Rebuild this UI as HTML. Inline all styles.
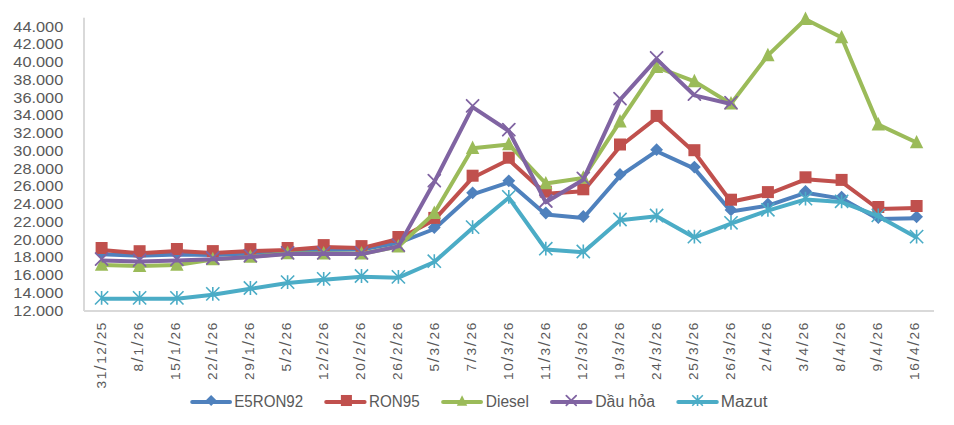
<!DOCTYPE html>
<html><head><meta charset="utf-8"><style>
html,body{margin:0;padding:0;background:#fff;}
body{width:954px;height:425px;overflow:hidden;}
svg{display:block;}
text{font-family:"Liberation Sans",sans-serif;fill:#595959;}
</style></head><body>
<svg width="954" height="425" viewBox="0 0 954 425">
<rect width="954" height="425" fill="#fff"/>
<rect x="83" y="17.7" width="2" height="293.3" fill="#D9D9D9"/>
<rect x="84" y="310" width="850" height="2" fill="#D9D9D9"/>
<text x="63.3" y="31.70" text-anchor="end" font-size="15.5" textLength="50.0" lengthAdjust="spacingAndGlyphs">44.000</text>
<text x="63.3" y="49.45" text-anchor="end" font-size="15.5" textLength="50.0" lengthAdjust="spacingAndGlyphs">42.000</text>
<text x="63.3" y="67.20" text-anchor="end" font-size="15.5" textLength="50.0" lengthAdjust="spacingAndGlyphs">40.000</text>
<text x="63.3" y="84.95" text-anchor="end" font-size="15.5" textLength="50.0" lengthAdjust="spacingAndGlyphs">38.000</text>
<text x="63.3" y="102.70" text-anchor="end" font-size="15.5" textLength="50.0" lengthAdjust="spacingAndGlyphs">36.000</text>
<text x="63.3" y="120.45" text-anchor="end" font-size="15.5" textLength="50.0" lengthAdjust="spacingAndGlyphs">34.000</text>
<text x="63.3" y="138.20" text-anchor="end" font-size="15.5" textLength="50.0" lengthAdjust="spacingAndGlyphs">32.000</text>
<text x="63.3" y="155.95" text-anchor="end" font-size="15.5" textLength="50.0" lengthAdjust="spacingAndGlyphs">30.000</text>
<text x="63.3" y="173.70" text-anchor="end" font-size="15.5" textLength="50.0" lengthAdjust="spacingAndGlyphs">28.000</text>
<text x="63.3" y="191.45" text-anchor="end" font-size="15.5" textLength="50.0" lengthAdjust="spacingAndGlyphs">26.000</text>
<text x="63.3" y="209.20" text-anchor="end" font-size="15.5" textLength="50.0" lengthAdjust="spacingAndGlyphs">24.000</text>
<text x="63.3" y="226.95" text-anchor="end" font-size="15.5" textLength="50.0" lengthAdjust="spacingAndGlyphs">22.000</text>
<text x="63.3" y="244.70" text-anchor="end" font-size="15.5" textLength="50.0" lengthAdjust="spacingAndGlyphs">20.000</text>
<text x="63.3" y="262.45" text-anchor="end" font-size="15.5" textLength="50.0" lengthAdjust="spacingAndGlyphs">18.000</text>
<text x="63.3" y="280.20" text-anchor="end" font-size="15.5" textLength="50.0" lengthAdjust="spacingAndGlyphs">16.000</text>
<text x="63.3" y="297.95" text-anchor="end" font-size="15.5" textLength="50.0" lengthAdjust="spacingAndGlyphs">14.000</text>
<text x="63.3" y="315.70" text-anchor="end" font-size="15.5" textLength="50.0" lengthAdjust="spacingAndGlyphs">12.000</text>
<text transform="translate(106.20,322.60) rotate(-90)" text-anchor="end" font-size="13.6" textLength="65.8" lengthAdjust="spacing">31<tspan font-size="17">/</tspan>12<tspan font-size="17">/</tspan>25</text>
<text transform="translate(143.16,322.60) rotate(-90)" text-anchor="end" font-size="13.6" textLength="49.0" lengthAdjust="spacing">8<tspan font-size="17">/</tspan>1<tspan font-size="17">/</tspan>26</text>
<text transform="translate(180.12,322.60) rotate(-90)" text-anchor="end" font-size="13.6" textLength="57.4" lengthAdjust="spacing">15<tspan font-size="17">/</tspan>1<tspan font-size="17">/</tspan>26</text>
<text transform="translate(217.08,322.60) rotate(-90)" text-anchor="end" font-size="13.6" textLength="57.4" lengthAdjust="spacing">22<tspan font-size="17">/</tspan>1<tspan font-size="17">/</tspan>26</text>
<text transform="translate(254.04,322.60) rotate(-90)" text-anchor="end" font-size="13.6" textLength="57.4" lengthAdjust="spacing">29<tspan font-size="17">/</tspan>1<tspan font-size="17">/</tspan>26</text>
<text transform="translate(291.00,322.60) rotate(-90)" text-anchor="end" font-size="13.6" textLength="49.0" lengthAdjust="spacing">5<tspan font-size="17">/</tspan>2<tspan font-size="17">/</tspan>26</text>
<text transform="translate(327.96,322.60) rotate(-90)" text-anchor="end" font-size="13.6" textLength="57.4" lengthAdjust="spacing">12<tspan font-size="17">/</tspan>2<tspan font-size="17">/</tspan>26</text>
<text transform="translate(364.92,322.60) rotate(-90)" text-anchor="end" font-size="13.6" textLength="57.4" lengthAdjust="spacing">20<tspan font-size="17">/</tspan>2<tspan font-size="17">/</tspan>26</text>
<text transform="translate(401.88,322.60) rotate(-90)" text-anchor="end" font-size="13.6" textLength="57.4" lengthAdjust="spacing">26<tspan font-size="17">/</tspan>2<tspan font-size="17">/</tspan>26</text>
<text transform="translate(438.84,322.60) rotate(-90)" text-anchor="end" font-size="13.6" textLength="49.0" lengthAdjust="spacing">5<tspan font-size="17">/</tspan>3<tspan font-size="17">/</tspan>26</text>
<text transform="translate(475.80,322.60) rotate(-90)" text-anchor="end" font-size="13.6" textLength="49.0" lengthAdjust="spacing">7<tspan font-size="17">/</tspan>3<tspan font-size="17">/</tspan>26</text>
<text transform="translate(512.76,322.60) rotate(-90)" text-anchor="end" font-size="13.6" textLength="57.4" lengthAdjust="spacing">10<tspan font-size="17">/</tspan>3<tspan font-size="17">/</tspan>26</text>
<text transform="translate(549.72,322.60) rotate(-90)" text-anchor="end" font-size="13.6" textLength="57.4" lengthAdjust="spacing">11<tspan font-size="17">/</tspan>3<tspan font-size="17">/</tspan>26</text>
<text transform="translate(586.68,322.60) rotate(-90)" text-anchor="end" font-size="13.6" textLength="57.4" lengthAdjust="spacing">12<tspan font-size="17">/</tspan>3<tspan font-size="17">/</tspan>26</text>
<text transform="translate(623.64,322.60) rotate(-90)" text-anchor="end" font-size="13.6" textLength="57.4" lengthAdjust="spacing">19<tspan font-size="17">/</tspan>3<tspan font-size="17">/</tspan>26</text>
<text transform="translate(660.60,322.60) rotate(-90)" text-anchor="end" font-size="13.6" textLength="57.4" lengthAdjust="spacing">24<tspan font-size="17">/</tspan>3<tspan font-size="17">/</tspan>26</text>
<text transform="translate(697.56,322.60) rotate(-90)" text-anchor="end" font-size="13.6" textLength="57.4" lengthAdjust="spacing">25<tspan font-size="17">/</tspan>3<tspan font-size="17">/</tspan>26</text>
<text transform="translate(734.52,322.60) rotate(-90)" text-anchor="end" font-size="13.6" textLength="57.4" lengthAdjust="spacing">26<tspan font-size="17">/</tspan>3<tspan font-size="17">/</tspan>26</text>
<text transform="translate(771.48,322.60) rotate(-90)" text-anchor="end" font-size="13.6" textLength="49.0" lengthAdjust="spacing">2<tspan font-size="17">/</tspan>4<tspan font-size="17">/</tspan>26</text>
<text transform="translate(808.44,322.60) rotate(-90)" text-anchor="end" font-size="13.6" textLength="49.0" lengthAdjust="spacing">3<tspan font-size="17">/</tspan>4<tspan font-size="17">/</tspan>26</text>
<text transform="translate(845.40,322.60) rotate(-90)" text-anchor="end" font-size="13.6" textLength="49.0" lengthAdjust="spacing">8<tspan font-size="17">/</tspan>4<tspan font-size="17">/</tspan>26</text>
<text transform="translate(882.36,322.60) rotate(-90)" text-anchor="end" font-size="13.6" textLength="49.0" lengthAdjust="spacing">9<tspan font-size="17">/</tspan>4<tspan font-size="17">/</tspan>26</text>
<text transform="translate(919.32,322.60) rotate(-90)" text-anchor="end" font-size="13.6" textLength="57.4" lengthAdjust="spacing">16<tspan font-size="17">/</tspan>4<tspan font-size="17">/</tspan>26</text>
<polyline points="101.60,254.30 139.60,255.80 176.90,254.60 212.80,255.00 250.40,253.80 287.60,252.50 323.70,250.00 361.50,249.50 398.40,242.80 434.30,229.00 472.60,194.30 508.80,182.30 545.80,214.50 583.30,218.00 620.00,175.90 656.60,151.20 694.40,168.60 731.00,211.40 767.90,205.60 805.50,192.80 841.60,198.60 878.30,219.00 916.60,218.30" fill="none" stroke="#4F81BD" stroke-width="4" stroke-linejoin="round" stroke-linecap="butt"/>
<path d="M101.60,246.40L108.00,252.80L101.60,259.20L95.20,252.80Z" fill="#4F81BD"/>
<path d="M139.60,247.90L146.00,254.30L139.60,260.70L133.20,254.30Z" fill="#4F81BD"/>
<path d="M176.90,246.70L183.30,253.10L176.90,259.50L170.50,253.10Z" fill="#4F81BD"/>
<path d="M212.80,247.10L219.20,253.50L212.80,259.90L206.40,253.50Z" fill="#4F81BD"/>
<path d="M250.40,245.90L256.80,252.30L250.40,258.70L244.00,252.30Z" fill="#4F81BD"/>
<path d="M287.60,244.60L294.00,251.00L287.60,257.40L281.20,251.00Z" fill="#4F81BD"/>
<path d="M323.70,242.10L330.10,248.50L323.70,254.90L317.30,248.50Z" fill="#4F81BD"/>
<path d="M361.50,241.60L367.90,248.00L361.50,254.40L355.10,248.00Z" fill="#4F81BD"/>
<path d="M398.40,234.90L404.80,241.30L398.40,247.70L392.00,241.30Z" fill="#4F81BD"/>
<path d="M434.30,221.10L440.70,227.50L434.30,233.90L427.90,227.50Z" fill="#4F81BD"/>
<path d="M472.60,186.40L479.00,192.80L472.60,199.20L466.20,192.80Z" fill="#4F81BD"/>
<path d="M508.80,174.40L515.20,180.80L508.80,187.20L502.40,180.80Z" fill="#4F81BD"/>
<path d="M545.80,206.60L552.20,213.00L545.80,219.40L539.40,213.00Z" fill="#4F81BD"/>
<path d="M583.30,210.10L589.70,216.50L583.30,222.90L576.90,216.50Z" fill="#4F81BD"/>
<path d="M620.00,168.00L626.40,174.40L620.00,180.80L613.60,174.40Z" fill="#4F81BD"/>
<path d="M656.60,143.30L663.00,149.70L656.60,156.10L650.20,149.70Z" fill="#4F81BD"/>
<path d="M694.40,160.70L700.80,167.10L694.40,173.50L688.00,167.10Z" fill="#4F81BD"/>
<path d="M731.00,203.50L737.40,209.90L731.00,216.30L724.60,209.90Z" fill="#4F81BD"/>
<path d="M767.90,197.70L774.30,204.10L767.90,210.50L761.50,204.10Z" fill="#4F81BD"/>
<path d="M805.50,184.90L811.90,191.30L805.50,197.70L799.10,191.30Z" fill="#4F81BD"/>
<path d="M841.60,190.70L848.00,197.10L841.60,203.50L835.20,197.10Z" fill="#4F81BD"/>
<path d="M878.30,211.10L884.70,217.50L878.30,223.90L871.90,217.50Z" fill="#4F81BD"/>
<path d="M916.60,210.40L923.00,216.80L916.60,223.20L910.20,216.80Z" fill="#4F81BD"/>
<polyline points="101.60,250.00 139.60,253.20 176.90,251.00 212.80,253.10 250.40,251.10 287.60,250.00 323.70,247.10 361.50,248.10 398.40,239.00 434.30,219.90 472.60,177.70 508.80,159.70 545.80,193.70 583.30,191.30 620.00,146.50 656.60,117.90 694.40,152.20 731.00,201.70 767.90,194.10 805.50,179.30 841.60,181.90 878.30,209.00 916.60,208.00" fill="none" stroke="#C0504D" stroke-width="4" stroke-linejoin="round" stroke-linecap="butt"/>
<rect x="95.60" y="242.00" width="12.00" height="12.00" fill="#C0504D"/>
<rect x="133.60" y="245.20" width="12.00" height="12.00" fill="#C0504D"/>
<rect x="170.90" y="243.00" width="12.00" height="12.00" fill="#C0504D"/>
<rect x="206.80" y="245.10" width="12.00" height="12.00" fill="#C0504D"/>
<rect x="244.40" y="243.10" width="12.00" height="12.00" fill="#C0504D"/>
<rect x="281.60" y="242.00" width="12.00" height="12.00" fill="#C0504D"/>
<rect x="317.70" y="239.10" width="12.00" height="12.00" fill="#C0504D"/>
<rect x="355.50" y="240.10" width="12.00" height="12.00" fill="#C0504D"/>
<rect x="392.40" y="231.00" width="12.00" height="12.00" fill="#C0504D"/>
<rect x="428.30" y="211.90" width="12.00" height="12.00" fill="#C0504D"/>
<rect x="466.60" y="169.70" width="12.00" height="12.00" fill="#C0504D"/>
<rect x="502.80" y="151.70" width="12.00" height="12.00" fill="#C0504D"/>
<rect x="539.80" y="185.70" width="12.00" height="12.00" fill="#C0504D"/>
<rect x="577.30" y="183.30" width="12.00" height="12.00" fill="#C0504D"/>
<rect x="614.00" y="138.50" width="12.00" height="12.00" fill="#C0504D"/>
<rect x="650.60" y="109.90" width="12.00" height="12.00" fill="#C0504D"/>
<rect x="688.40" y="144.20" width="12.00" height="12.00" fill="#C0504D"/>
<rect x="725.00" y="193.70" width="12.00" height="12.00" fill="#C0504D"/>
<rect x="761.90" y="186.10" width="12.00" height="12.00" fill="#C0504D"/>
<rect x="799.50" y="171.30" width="12.00" height="12.00" fill="#C0504D"/>
<rect x="835.60" y="173.90" width="12.00" height="12.00" fill="#C0504D"/>
<rect x="872.30" y="201.00" width="12.00" height="12.00" fill="#C0504D"/>
<rect x="910.60" y="200.00" width="12.00" height="12.00" fill="#C0504D"/>
<polyline points="101.60,265.00 139.60,266.10 176.90,265.00 212.80,259.40 250.40,256.90 287.60,253.40 323.70,253.60 361.50,253.70 398.40,246.60 434.30,213.20 472.60,148.20 508.80,144.40 545.80,183.50 583.30,177.90 620.00,121.70 656.60,67.20 694.40,81.40 731.00,103.70 767.90,55.40 805.50,19.20 841.60,37.55 878.30,124.60 916.60,142.50" fill="none" stroke="#9BBB59" stroke-width="4" stroke-linejoin="round" stroke-linecap="butt"/>
<path d="M101.60,257.40L108.30,270.80L94.90,270.80Z" fill="#9BBB59"/>
<path d="M139.60,258.50L146.30,271.90L132.90,271.90Z" fill="#9BBB59"/>
<path d="M176.90,257.40L183.60,270.80L170.20,270.80Z" fill="#9BBB59"/>
<path d="M212.80,251.80L219.50,265.20L206.10,265.20Z" fill="#9BBB59"/>
<path d="M250.40,249.30L257.10,262.70L243.70,262.70Z" fill="#9BBB59"/>
<path d="M287.60,245.80L294.30,259.20L280.90,259.20Z" fill="#9BBB59"/>
<path d="M323.70,246.00L330.40,259.40L317.00,259.40Z" fill="#9BBB59"/>
<path d="M361.50,246.10L368.20,259.50L354.80,259.50Z" fill="#9BBB59"/>
<path d="M398.40,239.00L405.10,252.40L391.70,252.40Z" fill="#9BBB59"/>
<path d="M434.30,205.60L441.00,219.00L427.60,219.00Z" fill="#9BBB59"/>
<path d="M472.60,140.60L479.30,154.00L465.90,154.00Z" fill="#9BBB59"/>
<path d="M508.80,136.80L515.50,150.20L502.10,150.20Z" fill="#9BBB59"/>
<path d="M545.80,175.90L552.50,189.30L539.10,189.30Z" fill="#9BBB59"/>
<path d="M583.30,170.30L590.00,183.70L576.60,183.70Z" fill="#9BBB59"/>
<path d="M620.00,114.10L626.70,127.50L613.30,127.50Z" fill="#9BBB59"/>
<path d="M656.60,59.60L663.30,73.00L649.90,73.00Z" fill="#9BBB59"/>
<path d="M694.40,73.80L701.10,87.20L687.70,87.20Z" fill="#9BBB59"/>
<path d="M731.00,96.10L737.70,109.50L724.30,109.50Z" fill="#9BBB59"/>
<path d="M767.90,47.80L774.60,61.20L761.20,61.20Z" fill="#9BBB59"/>
<path d="M805.50,11.60L812.20,25.00L798.80,25.00Z" fill="#9BBB59"/>
<path d="M841.60,29.95L848.30,43.35L834.90,43.35Z" fill="#9BBB59"/>
<path d="M878.30,117.00L885.00,130.40L871.60,130.40Z" fill="#9BBB59"/>
<path d="M916.60,134.90L923.30,148.30L909.90,148.30Z" fill="#9BBB59"/>
<polyline points="101.60,260.40 139.60,261.50 176.90,260.60 212.80,259.30 250.40,257.00 287.60,254.10 323.70,254.10 361.50,254.10 398.40,246.40 434.30,182.00 472.60,107.10 508.80,131.00 545.80,202.30 583.30,179.70 620.00,99.90 656.60,59.10 694.40,95.40 731.00,104.00" fill="none" stroke="#8064A2" stroke-width="4" stroke-linejoin="round" stroke-linecap="butt"/>
<path d="M95.60,253.10L107.60,265.10M107.60,253.10L95.60,265.10" stroke="#8064A2" stroke-width="1.8" stroke-linecap="round" fill="none"/>
<path d="M133.60,254.20L145.60,266.20M145.60,254.20L133.60,266.20" stroke="#8064A2" stroke-width="1.8" stroke-linecap="round" fill="none"/>
<path d="M170.90,253.30L182.90,265.30M182.90,253.30L170.90,265.30" stroke="#8064A2" stroke-width="1.8" stroke-linecap="round" fill="none"/>
<path d="M206.80,252.00L218.80,264.00M218.80,252.00L206.80,264.00" stroke="#8064A2" stroke-width="1.8" stroke-linecap="round" fill="none"/>
<path d="M244.40,249.70L256.40,261.70M256.40,249.70L244.40,261.70" stroke="#8064A2" stroke-width="1.8" stroke-linecap="round" fill="none"/>
<path d="M281.60,246.80L293.60,258.80M293.60,246.80L281.60,258.80" stroke="#8064A2" stroke-width="1.8" stroke-linecap="round" fill="none"/>
<path d="M317.70,246.80L329.70,258.80M329.70,246.80L317.70,258.80" stroke="#8064A2" stroke-width="1.8" stroke-linecap="round" fill="none"/>
<path d="M355.50,246.80L367.50,258.80M367.50,246.80L355.50,258.80" stroke="#8064A2" stroke-width="1.8" stroke-linecap="round" fill="none"/>
<path d="M392.40,239.10L404.40,251.10M404.40,239.10L392.40,251.10" stroke="#8064A2" stroke-width="1.8" stroke-linecap="round" fill="none"/>
<path d="M428.30,174.70L440.30,186.70M440.30,174.70L428.30,186.70" stroke="#8064A2" stroke-width="1.8" stroke-linecap="round" fill="none"/>
<path d="M466.60,99.80L478.60,111.80M478.60,99.80L466.60,111.80" stroke="#8064A2" stroke-width="1.8" stroke-linecap="round" fill="none"/>
<path d="M502.80,123.70L514.80,135.70M514.80,123.70L502.80,135.70" stroke="#8064A2" stroke-width="1.8" stroke-linecap="round" fill="none"/>
<path d="M539.80,195.00L551.80,207.00M551.80,195.00L539.80,207.00" stroke="#8064A2" stroke-width="1.8" stroke-linecap="round" fill="none"/>
<path d="M577.30,172.40L589.30,184.40M589.30,172.40L577.30,184.40" stroke="#8064A2" stroke-width="1.8" stroke-linecap="round" fill="none"/>
<path d="M614.00,92.60L626.00,104.60M626.00,92.60L614.00,104.60" stroke="#8064A2" stroke-width="1.8" stroke-linecap="round" fill="none"/>
<path d="M650.60,51.80L662.60,63.80M662.60,51.80L650.60,63.80" stroke="#8064A2" stroke-width="1.8" stroke-linecap="round" fill="none"/>
<path d="M688.40,88.10L700.40,100.10M700.40,88.10L688.40,100.10" stroke="#8064A2" stroke-width="1.8" stroke-linecap="round" fill="none"/>
<path d="M725.00,96.70L737.00,108.70M737.00,96.70L725.00,108.70" stroke="#8064A2" stroke-width="1.8" stroke-linecap="round" fill="none"/>
<polyline points="101.60,298.70 139.60,298.70 176.90,298.70 212.80,294.70 250.40,288.80 287.60,282.90 323.70,279.70 361.50,276.80 398.40,277.70 434.30,262.00 472.60,227.90 508.80,197.70 545.80,249.50 583.30,252.30 620.00,220.30 656.60,216.30 694.40,237.50 731.00,223.60 767.90,210.60 805.50,199.40 841.60,202.10 878.30,216.20 916.60,237.40" fill="none" stroke="#4BACC6" stroke-width="4" stroke-linejoin="round" stroke-linecap="butt"/>
<path d="M95.00,291.30L108.20,304.50M108.20,291.30L95.00,304.50M101.60,291.00L101.60,304.80" stroke="#4BACC6" stroke-width="1.6" stroke-linecap="butt" fill="none"/>
<path d="M133.00,291.30L146.20,304.50M146.20,291.30L133.00,304.50M139.60,291.00L139.60,304.80" stroke="#4BACC6" stroke-width="1.6" stroke-linecap="butt" fill="none"/>
<path d="M170.30,291.30L183.50,304.50M183.50,291.30L170.30,304.50M176.90,291.00L176.90,304.80" stroke="#4BACC6" stroke-width="1.6" stroke-linecap="butt" fill="none"/>
<path d="M206.20,287.30L219.40,300.50M219.40,287.30L206.20,300.50M212.80,287.00L212.80,300.80" stroke="#4BACC6" stroke-width="1.6" stroke-linecap="butt" fill="none"/>
<path d="M243.80,281.40L257.00,294.60M257.00,281.40L243.80,294.60M250.40,281.10L250.40,294.90" stroke="#4BACC6" stroke-width="1.6" stroke-linecap="butt" fill="none"/>
<path d="M281.00,275.50L294.20,288.70M294.20,275.50L281.00,288.70M287.60,275.20L287.60,289.00" stroke="#4BACC6" stroke-width="1.6" stroke-linecap="butt" fill="none"/>
<path d="M317.10,272.30L330.30,285.50M330.30,272.30L317.10,285.50M323.70,272.00L323.70,285.80" stroke="#4BACC6" stroke-width="1.6" stroke-linecap="butt" fill="none"/>
<path d="M354.90,269.40L368.10,282.60M368.10,269.40L354.90,282.60M361.50,269.10L361.50,282.90" stroke="#4BACC6" stroke-width="1.6" stroke-linecap="butt" fill="none"/>
<path d="M391.80,270.30L405.00,283.50M405.00,270.30L391.80,283.50M398.40,270.00L398.40,283.80" stroke="#4BACC6" stroke-width="1.6" stroke-linecap="butt" fill="none"/>
<path d="M427.70,254.60L440.90,267.80M440.90,254.60L427.70,267.80M434.30,254.30L434.30,268.10" stroke="#4BACC6" stroke-width="1.6" stroke-linecap="butt" fill="none"/>
<path d="M466.00,220.50L479.20,233.70M479.20,220.50L466.00,233.70M472.60,220.20L472.60,234.00" stroke="#4BACC6" stroke-width="1.6" stroke-linecap="butt" fill="none"/>
<path d="M502.20,190.30L515.40,203.50M515.40,190.30L502.20,203.50M508.80,190.00L508.80,203.80" stroke="#4BACC6" stroke-width="1.6" stroke-linecap="butt" fill="none"/>
<path d="M539.20,242.10L552.40,255.30M552.40,242.10L539.20,255.30M545.80,241.80L545.80,255.60" stroke="#4BACC6" stroke-width="1.6" stroke-linecap="butt" fill="none"/>
<path d="M576.70,244.90L589.90,258.10M589.90,244.90L576.70,258.10M583.30,244.60L583.30,258.40" stroke="#4BACC6" stroke-width="1.6" stroke-linecap="butt" fill="none"/>
<path d="M613.40,212.90L626.60,226.10M626.60,212.90L613.40,226.10M620.00,212.60L620.00,226.40" stroke="#4BACC6" stroke-width="1.6" stroke-linecap="butt" fill="none"/>
<path d="M650.00,208.90L663.20,222.10M663.20,208.90L650.00,222.10M656.60,208.60L656.60,222.40" stroke="#4BACC6" stroke-width="1.6" stroke-linecap="butt" fill="none"/>
<path d="M687.80,230.10L701.00,243.30M701.00,230.10L687.80,243.30M694.40,229.80L694.40,243.60" stroke="#4BACC6" stroke-width="1.6" stroke-linecap="butt" fill="none"/>
<path d="M724.40,216.20L737.60,229.40M737.60,216.20L724.40,229.40M731.00,215.90L731.00,229.70" stroke="#4BACC6" stroke-width="1.6" stroke-linecap="butt" fill="none"/>
<path d="M761.30,203.20L774.50,216.40M774.50,203.20L761.30,216.40M767.90,202.90L767.90,216.70" stroke="#4BACC6" stroke-width="1.6" stroke-linecap="butt" fill="none"/>
<path d="M798.90,192.00L812.10,205.20M812.10,192.00L798.90,205.20M805.50,191.70L805.50,205.50" stroke="#4BACC6" stroke-width="1.6" stroke-linecap="butt" fill="none"/>
<path d="M835.00,194.70L848.20,207.90M848.20,194.70L835.00,207.90M841.60,194.40L841.60,208.20" stroke="#4BACC6" stroke-width="1.6" stroke-linecap="butt" fill="none"/>
<path d="M871.70,208.80L884.90,222.00M884.90,208.80L871.70,222.00M878.30,208.50L878.30,222.30" stroke="#4BACC6" stroke-width="1.6" stroke-linecap="butt" fill="none"/>
<path d="M910.00,230.00L923.20,243.20M923.20,230.00L910.00,243.20M916.60,229.70L916.60,243.50" stroke="#4BACC6" stroke-width="1.6" stroke-linecap="butt" fill="none"/>
<line x1="192.20" y1="402.0" x2="230.00" y2="402.0" stroke="#4F81BD" stroke-width="4" stroke-linecap="round"/>
<path d="M211.10,395.00L216.60,400.50L211.10,406.00L205.60,400.50Z" fill="#4F81BD"/>
<text x="234.30" y="406.6" font-size="15.6" textLength="68.8" lengthAdjust="spacingAndGlyphs">E5RON92</text>
<line x1="326.20" y1="402.0" x2="364.60" y2="402.0" stroke="#C0504D" stroke-width="4" stroke-linecap="round"/>
<rect x="340.88" y="394.98" width="11.04" height="11.04" fill="#C0504D"/>
<text x="369.00" y="406.6" font-size="15.6" textLength="50.6" lengthAdjust="spacingAndGlyphs">RON95</text>
<line x1="443.10" y1="402.0" x2="481.00" y2="402.0" stroke="#9BBB59" stroke-width="4" stroke-linecap="round"/>
<path d="M462.05,395.27L467.28,405.73L456.82,405.73Z" fill="#9BBB59"/>
<text x="485.80" y="406.6" font-size="15.6" textLength="43.1" lengthAdjust="spacingAndGlyphs">Diesel</text>
<line x1="552.00" y1="402.0" x2="590.50" y2="402.0" stroke="#8064A2" stroke-width="4" stroke-linecap="round"/>
<path d="M566.33,395.58L576.17,405.42M576.17,395.58L566.33,405.42" stroke="#8064A2" stroke-width="1.8" stroke-linecap="round" fill="none"/>
<text x="595.20" y="406.6" font-size="15.6" textLength="59.8" lengthAdjust="spacingAndGlyphs">Dầu hỏa</text>
<line x1="678.30" y1="402.0" x2="716.80" y2="402.0" stroke="#4BACC6" stroke-width="4" stroke-linecap="round"/>
<path d="M692.27,395.22L702.83,405.78M702.83,395.22L692.27,405.78M697.55,394.92L697.55,406.08" stroke="#4BACC6" stroke-width="1.6" stroke-linecap="butt" fill="none"/>
<text x="720.80" y="406.6" font-size="15.6" textLength="46.7" lengthAdjust="spacingAndGlyphs">Mazut</text>
</svg>
</body></html>
